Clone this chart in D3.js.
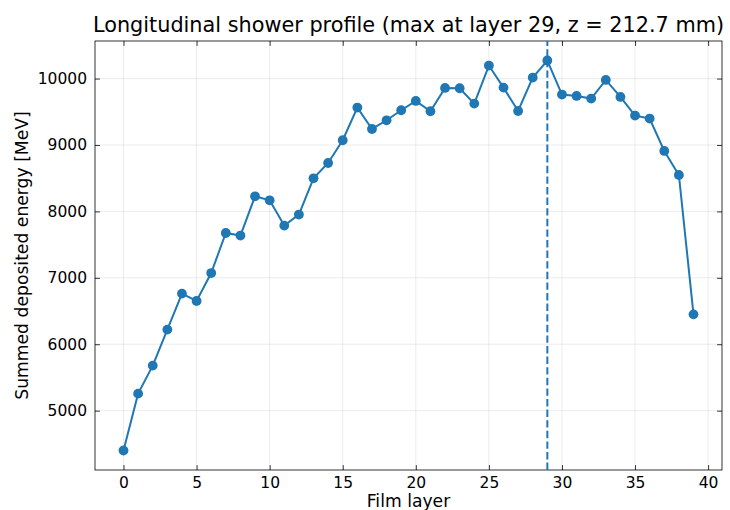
<!DOCTYPE html>
<html>
<head>
<meta charset="utf-8">
<script src="https://cdn.jsdelivr.net/npm/d3@7"></script>
<style>
  body { margin: 0; background: #fff; }
  svg { font-family: "DejaVu Sans", sans-serif; }
</style>
</head>
<body>
<svg width="730" height="510"></svg>
<script>
// summed deposited energy per film layer [MeV]
const layers = d3.range(0, 40);
const energy = [
  4400, 5256, 5678, 6220, 6762, 6651, 7072, 7675, 7636, 8227,
  8167, 7786, 7952, 8498, 8729, 9071, 9563, 9241, 9372, 9523,
  9663, 9508, 9859, 9854, 9623, 10196, 9864, 9512, 10015, 10272,
  9759, 9738, 9699, 9979, 9723, 9443, 9398, 8910, 8548, 6450
];
const maxLayer = 29;
const xTicks = [0, 5, 10, 15, 20, 25, 30, 35, 40];
const yTicks = [5000, 6000, 7000, 8000, 9000, 10000];
const title = "Longitudinal shower profile (max at layer 29, z = 212.7 mm)";

const blue = "#1f77b4";
const margin = { left: 95, right: 8, top: 41, bottom: 40 };
const W = 730, H = 510;
const svg = d3.select("svg");

// matplotlib style 5% padding
function pad(ext) {
  const d = (ext[1] - ext[0]) * 0.05;
  return [ext[0] - d, ext[1] + d];
}

const x = d3.scaleLinear()
  .domain(pad(d3.extent(layers)))
  .range([margin.left, W - margin.right]);
const y = d3.scaleLinear()
  .domain(pad(d3.extent(energy)))
  .range([H - margin.bottom, margin.top]);

const x0 = margin.left, x1 = W - margin.right;
const y0 = H - margin.bottom, y1 = margin.top;

// grid
const grid = svg.append("g").attr("stroke", "#b0b0b0").attr("stroke-opacity", 0.3).attr("stroke-width", 0.8);
grid.selectAll("line.gx").data(xTicks).join("line")
  .attr("x1", d => x(d)).attr("x2", d => x(d)).attr("y1", y0).attr("y2", y1);
grid.selectAll("line.gy").data(yTicks).join("line")
  .attr("y1", d => y(d)).attr("y2", d => y(d)).attr("x1", x0).attr("x2", x1);

// axes with inward ticks on all four sides
const tl = 4.9;
const tickFont = 15.5;
const xb = svg.append("g").attr("transform", `translate(0,${y0})`)
  .call(d3.axisBottom(x).tickValues(xTicks).tickSizeInner(-tl).tickSizeOuter(0).tickPadding(7.4));
const xt = svg.append("g").attr("transform", `translate(0,${y1})`)
  .call(d3.axisTop(x).tickValues(xTicks).tickSizeInner(-tl).tickSizeOuter(0).tickFormat(""));
const yl = svg.append("g").attr("transform", `translate(${x0},0)`)
  .call(d3.axisLeft(y).tickValues(yTicks).tickSizeInner(-tl).tickSizeOuter(0).tickPadding(8).tickFormat(d3.format("d")));
const yr = svg.append("g").attr("transform", `translate(${x1},0)`)
  .call(d3.axisRight(y).tickValues(yTicks).tickSizeInner(-tl).tickSizeOuter(0).tickFormat(""));
[xb, xt, yl, yr].forEach(g => {
  g.select(".domain").remove();
  g.selectAll(".tick line").attr("stroke", "#000").attr("stroke-width", 0.8);
  g.selectAll("text").attr("font-size", tickFont).attr("fill", "#000")
    .attr("font-family", "DejaVu Sans");
});

// frame
svg.append("rect")
  .attr("x", x0).attr("y", y1).attr("width", x1 - x0).attr("height", y0 - y1)
  .attr("fill", "none").attr("stroke", "#000").attr("stroke-width", 0.8);

// line + markers
const pts = layers.map((l, i) => [l, energy[i]]);
svg.append("path")
  .datum(pts)
  .attr("fill", "none").attr("stroke", blue).attr("stroke-width", 2)
  .attr("d", d3.line().x(d => x(d[0])).y(d => y(d[1])));
svg.append("g").selectAll("circle").data(pts).join("circle")
  .attr("cx", d => x(d[0])).attr("cy", d => y(d[1]))
  .attr("r", 4.9).attr("fill", blue);

// maximum marker line
svg.append("line")
  .attr("x1", x(maxLayer)).attr("x2", x(maxLayer)).attr("y1", y0).attr("y2", y1)
  .attr("stroke", blue).attr("stroke-width", 2).attr("stroke-dasharray", "7.4,3.2");

// labels
svg.append("text")
  .attr("x", (x0 + x1) / 2).attr("y", 32)
  .attr("text-anchor", "middle").attr("font-size", 20.8)
  .text(title);
svg.append("text")
  .attr("x", (x0 + x1) / 2).attr("y", 507)
  .attr("text-anchor", "middle").attr("font-size", 17.2)
  .text("Film layer");
svg.append("text")
  .attr("transform", `translate(28,${(y0 + y1) / 2}) rotate(-90)`)
  .attr("text-anchor", "middle").attr("font-size", 17.2)
  .text("Summed deposited energy [MeV]");
</script>
</body>
</html>
